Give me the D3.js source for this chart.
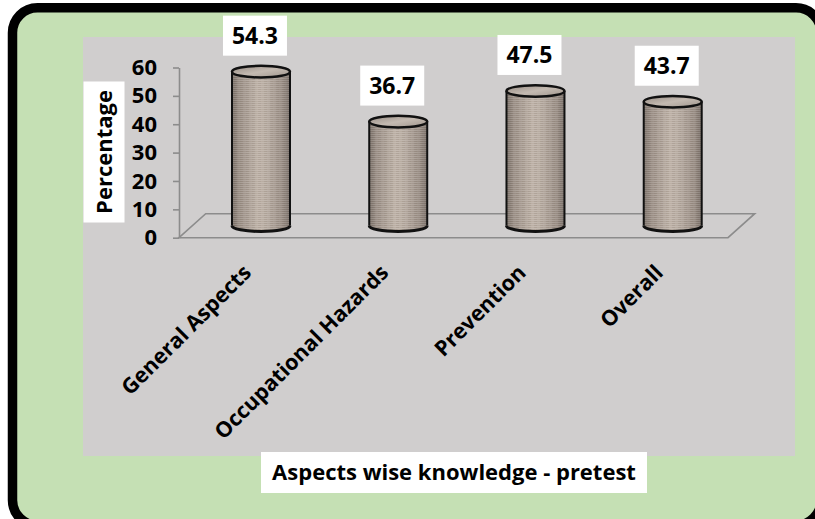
<!DOCTYPE html>
<html>
<head>
<meta charset="utf-8">
<script src="https://cdn.jsdelivr.net/npm/d3@7"></script>
<style>
  html, body { margin: 0; padding: 0; background: #ffffff; }
  svg { display: block; }
  text { font-family: "Open Sans", "DejaVu Sans", sans-serif; font-weight: 700; fill: #000; }
</style>
</head>
<body>
<svg id="chart" width="815" height="519"></svg>
<script>
const categories = ["General Aspects", "Occupational Hazards", "Prevention", "Overall"];
const values = [54.3, 36.7, 47.5, 43.7];
const yTicks = [0, 10, 20, 30, 40, 50, 60];
const yAxisTitle = "Percentage";
const xAxisTitle = "Aspects wise knowledge - pretest";

const svg = d3.select("#chart");
const defs = svg.append("defs");

// outer frame
svg.append("rect")
  .attr("x", 12.5).attr("y", 7.8)
  .attr("width", 808.5).attr("height", 517.5)
  .attr("rx", 25).attr("ry", 25)
  .attr("fill", "#C5E0B4")
  .attr("stroke", "#000").attr("stroke-width", 9.5);

// plot area
svg.append("rect")
  .attr("x", 83).attr("y", 37)
  .attr("width", 712).attr("height", 419)
  .attr("fill", "#D0CECE");

// scales
const x = d3.scaleBand().domain(categories).range([179, 728]).padding(0);
const y = d3.scaleLinear().domain([0, 60]).range([237.7, 67.5]);
const depthX = 26.7, depthY = -24;

// floor
const y0 = y(0);
const floorPts = [
  [x.range()[0], y0],
  [x.range()[0] + depthX, y0 + depthY],
  [x.range()[1] + depthX, y0 + depthY],
  [x.range()[1], y0]
];
svg.append("path")
  .attr("d", d3.line()(floorPts) + "Z")
  .attr("fill", "none")
  .attr("stroke", "#8C8C8C")
  .attr("stroke-width", 1.6);

// y axis
const yAxis = d3.axisLeft(y).tickValues(yTicks).tickSize(6).tickSizeOuter(0).tickPadding(16);
const yG = svg.append("g").attr("transform", `translate(${x.range()[0]},0)`).call(yAxis);
yG.select(".domain").attr("stroke", "#8C8C8C").attr("stroke-width", 1.6);
yG.selectAll(".tick line").attr("stroke", "#8C8C8C").attr("stroke-width", 1.6);
yG.selectAll(".tick text")
  .attr("font-family", "'Open Sans', sans-serif")
  .attr("font-weight", 700)
  .attr("font-size", 22)
  .attr("fill", "#000");

// y axis title
const ytG = svg.append("g").attr("transform", "translate(104,152)");
ytG.append("rect").attr("x", -20.5).attr("y", -70.5).attr("width", 41).attr("height", 141).attr("fill", "#fff");
ytG.append("text")
  .attr("transform", "rotate(-90)")
  .attr("text-anchor", "middle")
  .attr("dy", "0.35em")
  .attr("font-size", 22)
  .text(yAxisTitle);

// cylinder gradients
const sideGrad = defs.append("linearGradient").attr("id", "side").attr("x1", 0).attr("x2", 1).attr("y1", 0).attr("y2", 0);
[[0, "#766c64"], [0.12, "#988c83"], [0.45, "#bcb0a5"], [0.6, "#b6aaa0"], [0.88, "#968a81"], [1, "#746a63"]]
  .forEach(([o, c]) => sideGrad.append("stop").attr("offset", o).attr("stop-color", c));
const topGrad = defs.append("linearGradient").attr("id", "top").attr("x1", 0).attr("x2", 1).attr("y1", 0).attr("y2", 1);
[[0, "#968c84"], [0.5, "#c4bab1"], [1, "#9f958c"]]
  .forEach(([o, c]) => topGrad.append("stop").attr("offset", o).attr("stop-color", c));
const pat = defs.append("pattern").attr("id", "stripes").attr("patternUnits", "userSpaceOnUse").attr("width", 6).attr("height", 2);
pat.append("rect").attr("width", 6).attr("height", 1).attr("fill", "rgba(255,255,255,0.14)");
pat.append("rect").attr("y", 1).attr("width", 3).attr("height", 1).attr("fill", "rgba(60,50,40,0.08)");

const cylW = 58, ry = 5.8;
const baseY = y0 + depthY / 2;
const data = categories.map((c, i) => ({ c, v: values[i] }));

const cyl = svg.append("g").selectAll("g").data(data).join("g");
cyl.each(function (d) {
  const g = d3.select(this);
  const cx = x(d.c) + x.bandwidth() / 2 + depthX / 2;
  const rx = cylW / 2;
  const topY = baseY - (y0 - y(d.v));
  const sidePath = `M${cx - rx},${topY} L${cx - rx},${baseY} A${rx},${ry} 0 0 0 ${cx + rx},${baseY} L${cx + rx},${topY} Z`;
  g.append("path").attr("d", sidePath).attr("fill", "url(#side)");
  g.append("path").attr("d", sidePath).attr("fill", "url(#stripes)");
  g.append("path").attr("d", `M${cx - rx},${topY} L${cx - rx},${baseY}`).attr("stroke", "#111").attr("stroke-width", 2).attr("fill", "none");
  g.append("path").attr("d", `M${cx + rx},${topY} L${cx + rx},${baseY}`).attr("stroke", "#111").attr("stroke-width", 2).attr("fill", "none");
  g.append("path").attr("d", `M${cx - rx},${baseY} A${rx},${ry} 0 0 0 ${cx + rx},${baseY}`).attr("stroke", "#111").attr("stroke-width", 3).attr("fill", "none");
  g.append("ellipse").attr("cx", cx).attr("cy", topY).attr("rx", rx).attr("ry", ry)
    .attr("fill", "url(#top)").attr("stroke", "#111").attr("stroke-width", 2.5);
  // data label
  const lx = cx - 6, lb = topY - 16;
  g.append("rect").attr("x", lx - 32).attr("y", lb - 40).attr("width", 64).attr("height", 40).attr("fill", "#fff");
  g.append("text").attr("x", lx).attr("y", lb - 20).attr("dy", "0.35em")
    .attr("text-anchor", "middle").attr("font-size", 23).text(d3.format(".1f")(d.v));
});

// category labels
svg.append("g").selectAll("text").data(categories).join("text")
  .attr("transform", d => `translate(${x(d) + x.bandwidth() / 2 + 5},274) rotate(-45)`)
  .attr("text-anchor", "end")
  .attr("font-size", 21.5)
  .text(d => d);

// x axis title
const xtG = svg.append("g").attr("transform", "translate(454,472.5)");
xtG.append("rect").attr("x", -193).attr("y", -20.5).attr("width", 386).attr("height", 41).attr("fill", "#fff");
xtG.append("text").attr("text-anchor", "middle").attr("dy", "0.35em").attr("font-size", 22).text(xAxisTitle);
</script>
</body>
</html>
